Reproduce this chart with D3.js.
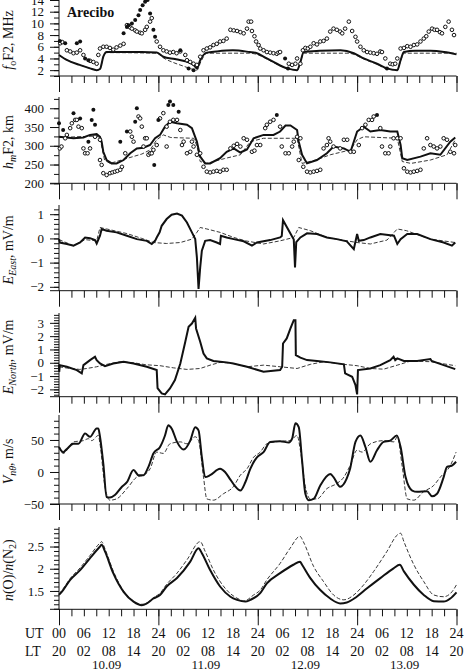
<!DOCTYPE html>
<html>
<head>
<meta charset="utf-8">
<script src="https://cdn.jsdelivr.net/npm/d3@7"></script>
<style>
  body { margin: 0; background: #fff; }
  svg { display: block; }
  text { font-family: "Liberation Serif", "Times New Roman", Times, serif; fill: #111; }
</style>
</head>
<body>
<div id="chart"></div>
<script>
// time axis (hours since 10.09 00 UT)
const utLabels = ['00', '06', '12', '18', '24', '06', '12', '18', '24', '06', '12', '18', '24', '06', '12', '18', '24'];
const ltLabels = ['20', '02', '08', '14', '20', '02', '08', '14', '20', '02', '08', '14', '20', '02', '08', '14', '20'];
const dayLabels = ['10.09', '11.09', '12.09', '13.09'];

// foF2, MHz
const foF2Model = [[0,4.6],[2,3.7],[5,2.9],[7.5,2.3],[9.1,2.0],[9.9,2.2],[10.7,4.3],[11.5,5.1],[14,5.1],[20,5.1],[23.6,5.0],[25.2,4.3],[28,3.9],[30,3.6],[32.5,2.9],[33.3,2.3],[34.1,3.7],[35.7,5.0],[38,5.2],[42,5.4],[46,5.1],[47.8,4.9],[49.4,4.3],[51.8,3.4],[55.1,2.3],[57.5,2.0],[58.3,3.4],[59.1,5.1],[63,5.3],[68,5.4],[71.2,4.9],[73.6,4.0],[76.8,3.1],[79.2,2.3],[81.7,2.0],[82.5,3.7],[83.3,5.1],[86,5.3],[89.7,5.3],[93,5.1],[96,4.7]];
const foF2Alt = [[0,4.6],[2,3.7],[5,2.9],[7.5,2.3],[9.1,2.0],[9.9,2.2],[10.7,4.3],[11.5,5.0],[23.6,4.9],[25.2,4.1],[28,3.2],[30,2.7],[32.5,2.1],[33.3,2.0],[34.3,3.5],[35.7,4.9],[46,4.9],[47.8,4.7],[49.4,4.2],[51.8,3.3],[55.1,2.3],[57.5,2.0],[58.3,3.4],[59.1,4.9],[70,4.9],[71.2,4.7],[73.6,3.9],[76.8,3.0],[79.2,2.2],[81.7,2.0],[82.5,3.6],[83.3,4.9],[96,4.9]];
const foF2Open = [[0.3,6.6],[0.8,6.8],[1.9,5.4],[2.7,5.2],[3.5,4.9],[4.3,5.0],[5.1,5.4],[5.9,4.6],[7.5,3.6],[8.3,3.4],[9.1,3.1],[9.5,4.6],[9.9,5.7],[10.7,6.0],[11.5,6.0],[12.3,5.8],[13.1,5.5],[13.9,5.9],[14.8,6.2],[15.6,6.5],[16.4,9.7],[17.2,9.3],[17.6,9.1],[18.4,8.8],[18.8,8.6],[19.6,8.4],[20,8.3],[20.8,8.9],[21.2,9.4],[22,10.3],[22.4,10.9],[23.6,6.9],[24.4,6.0],[25.2,5.4],[26,5.2],[26.8,5.0],[27.6,5.1],[28.4,4.9],[29.3,5.2],[30.5,4.6],[30.9,3.7],[31.7,3.4],[32.5,3.1],[33.3,2.9],[34.1,4.3],[34.9,5.4],[35.7,5.7],[36.5,5.9],[37.3,6.3],[38.1,6.5],[38.9,6.9],[39.7,7.0],[40.5,7.4],[41.4,8.9],[42.2,8.8],[43.0,8.7],[43.8,8.5],[44.6,8.3],[45.4,9.1],[45.8,10.3],[46.4,10.3],[46.6,8.7],[47.2,7.8],[47.6,6.9],[48.2,6.3],[48.6,5.7],[49.4,5.4],[50.2,5.1],[51,5.0],[51.8,4.9],[52.6,4.8],[53,5.0],[53.4,5.1],[55.5,3.1],[56.3,2.9],[57.1,3.1],[57.5,4.0],[58.3,3.1],[58.9,5.4],[59.5,5.8],[60.1,5.7],[60.7,6.0],[61.5,6.6],[62.3,6.4],[63.1,6.9],[63.9,7.0],[64.7,7.4],[65.5,8.6],[66.3,9.1],[67.1,8.9],[67.9,8.6],[68.4,8.3],[69.1,9.1],[70,10.3],[70.8,8.7],[71.6,7.7],[72,6.9],[72.8,6.0],[73.6,5.4],[74.4,5.1],[75.2,5.0],[76,4.9],[76.8,4.8],[77.6,5.2],[78,5.1],[78.8,4.0],[80,3.1],[80.6,3.0],[81.2,3.1],[81.7,4.0],[82.5,5.7],[83.3,5.8],[84.1,6.1],[84.9,6.0],[85.7,6.3],[86.5,6.4],[87.3,6.9],[88.1,7.4],[88.7,7.8],[89.3,8.6],[90.1,9.1],[90.7,8.9],[91.3,8.9],[92,8.5],[92.5,8.3],[93.3,9.4],[94.1,10.3],[94.9,8.9],[95.4,8.0]];
const foF2Filled = [[0.2,7.0],[1.5,6.6],[4.3,6.6],[5.1,6.9],[6.3,4.0],[7.1,3.7],[15.6,8.3],[16.4,9.4],[16.8,9.7],[17.6,10.0],[18.4,10.6],[19.2,11.4],[19.6,12.3],[20.2,13.1],[20.8,13.7],[21.4,14.0],[22.0,11.7],[22.8,8.9],[23.2,7.7],[29.3,5.4],[31.3,2.3],[32.5,2.0],[54.6,4.0],[55.3,2.3],[79.2,2.3]];

// hmF2, km
const hmF2Model = [[0,324],[3.5,320],[5.9,322],[7.5,329],[9.1,331],[9.9,324],[10.3,311],[10.7,284],[11.5,262],[12.7,253],[13.9,253],[15.6,262],[17.2,280],[18.8,293],[20.4,295],[22,302],[23.2,320],[24.4,329],[25.6,351],[26.8,364],[28.5,360],[30.9,356],[32.1,347],[33.3,311],[34.1,271],[35.3,253],[36.5,253],[38.9,267],[40.5,284],[42.2,293],[43.8,282],[45.4,290],[47,320],[49.4,329],[51.8,329],[53.4,338],[54.7,354],[55.9,354],[57.5,342],[57.9,311],[58.7,276],[59.9,253],[62.3,262],[64.7,280],[66.3,298],[68.8,293],[70.4,284],[72,338],[73.6,351],[75.2,338],[77.6,342],[80,338],[81.7,338],[82.5,302],[82.9,267],[84.1,262],[87.3,271],[89.7,280],[92.1,276],[94.5,311],[95.7,322]];
const hmF2Alt = [[0,322],[9.1,326],[9.9,320],[11,262],[12.3,253],[16,265],[20,278],[22,289],[23.6,316],[25.2,329],[27,322],[32.5,320],[33.3,300],[34.1,258],[35.7,253],[40,266],[43.8,276],[46.2,311],[49.4,320],[57.5,320],[58.7,253],[62,262],[65.5,276],[70.4,289],[72,316],[73.6,324],[81.7,320],[82.9,258],[85,253],[89.7,262],[93.7,276],[95.7,316]];
const hmF2Open = [[0.2,293],[0.6,298],[1.5,320],[1.9,329],[2.7,347],[3.1,360],[3.9,369],[4.3,369],[4.7,351],[5.5,347],[5.9,293],[6.3,280],[6.9,280],[7.5,293],[8.7,324],[9.9,316],[9.9,262],[10.3,249],[10.7,227],[11.5,222],[12.3,227],[12.9,229],[13.5,231],[14.1,233],[14.8,236],[15.2,244],[16,280],[17.2,338],[17.6,324],[18,311],[19.2,378],[19.6,373],[20,351],[20.4,298],[20.8,320],[21.2,320],[21.6,276],[22,280],[22.4,280],[22.8,289],[23.6,302],[24.4,373],[25.2,387],[26,298],[26,351],[26.8,364],[27.6,369],[28.5,369],[29.3,342],[29.7,302],[30.1,311],[30.9,280],[31.7,284],[32.1,311],[32.5,298],[33.3,276],[34.1,280],[34.9,244],[35.7,231],[36.5,229],[37.3,231],[38.1,233],[38.9,231],[39.7,236],[40.5,236],[41.4,293],[42.2,300],[43,305],[43.8,298],[44.6,320],[45.4,316],[46.6,284],[47.2,287],[47.8,302],[48.6,302],[49.8,347],[50.2,356],[51,364],[51.8,369],[53.4,351],[53.8,298],[54.7,280],[55.5,280],[56.3,298],[56.7,311],[57.5,324],[58.3,320],[57.9,262],[59,244],[59.9,231],[60.7,229],[61.5,231],[62.3,233],[63.1,236],[63.9,293],[64.7,302],[65.1,320],[65.5,311],[66.3,298],[67.9,293],[68.8,316],[69.6,316],[70.4,284],[71.2,284],[72.4,302],[73.2,347],[74,356],[74.8,369],[75.6,369],[76,378],[77.6,347],[78,298],[78.8,280],[79.6,280],[80,298],[80.8,320],[81.7,320],[82.5,320],[83.3,240],[84.1,231],[84.9,229],[85.7,231],[86.5,233],[87.3,236],[88.1,293],[88.9,320],[89.7,302],[90.5,298],[91.3,293],[92.1,298],[92.9,320],[93.7,316],[94.5,284],[95.4,280],[95.7,302]];
const hmF2Filled = [[0,360],[1,342],[3.5,387],[5.1,373],[7.1,311],[7.9,369],[8.3,396],[8.7,356],[14.8,311],[16.4,338],[18.4,364],[18.8,400],[23,249],[24,369],[26.4,409],[26.8,418],[27.6,409],[28.9,391],[52.6,382],[76.8,382]];

// E East, mV/m
const eEastModel = [[0,-0.03],[0.2,-0.17],[1.9,-0.23],[3.5,-0.3],[5.1,-0.17],[6.3,0.04],[7.5,0.01],[8.7,-0.07],[9.1,-0.21],[9.9,0.11],[10.3,0.39],[11.5,0.32],[13.9,0.25],[16.4,0.11],[18.8,-0.03],[21.2,-0.1],[22.4,-0.23],[23.2,-0.1],[23.6,0.04],[24.3,0.25],[24.8,0.52],[26,0.8],[27.2,0.98],[28.5,1.03],[29.7,0.94],[30.9,0.66],[32.1,0.25],[32.9,-0.03],[33.3,-0.78],[33.7,-2.09],[34.1,-1.2],[34.5,-0.51],[35.3,-0.1],[36.5,-0.07],[38.1,-0.17],[38.9,-0.23],[39.1,0.11],[40.5,0.04],[42.2,-0.03],[44.6,-0.12],[46.6,-0.3],[47.8,-0.17],[51,-0.07],[53.4,0.04],[53.8,0.1],[54.1,0.75],[56.7,-0.05],[57.0,-1.2],[57.3,-0.15],[58.3,0.04],[59.9,0.21],[62.3,0.18],[64.7,0.04],[67.1,-0.03],[69.5,-0.12],[71.2,-0.44],[72,0.18],[72.4,-0.1],[73.6,-0.07],[75.2,0.04],[77.6,0.18],[80.9,0.11],[81.7,-0.23],[82.5,-0.03],[84.1,0.18],[86.5,0.18],[89.7,-0.03],[92.9,-0.17],[94.9,-0.3],[95.7,-0.17]];
const eEastAlt = [[0,-0.05],[3.5,-0.3],[6.3,-0.05],[9.1,-0.1],[9.9,0.45],[11.5,0.39],[16.4,0.2],[20,0],[22.8,-0.17],[26,-0.21],[29.3,-0.17],[32.1,-0.03],[33.3,0.25],[34.1,0.45],[35.7,0.39],[38.9,0.25],[42.2,0.04],[45,-0.1],[49.4,-0.23],[53.4,-0.1],[56.7,0.04],[57.9,0.45],[60.7,0.32],[64.7,0.04],[69.5,-0.1],[72,-0.17],[75.2,-0.23],[79.2,-0.07],[81.7,0.39],[83.9,0.32],[89.7,-0.03],[95.7,-0.17]];

// E North, mV/m
const eNorthModel = [[0,-0.12],[0.05,-0.68],[0.2,-0.18],[1.9,-0.3],[4.3,-0.55],[5.5,-0.8],[5.9,-0.18],[7.5,0.2],[8.7,0.45],[9.1,0.2],[9.9,-0.05],[11.1,-0.25],[13.1,-0.05],[15.6,0.08],[18,-0.05],[21.2,-0.3],[23.6,-0.55],[23.8,-1.9],[24.8,-2.3],[25.6,-2.38],[26.8,-1.93],[28,-1.3],[29.3,-0.05],[30.5,1.58],[31.3,2.7],[32.1,2.95],[32.9,3.38],[33.1,2.58],[34.1,1.58],[34.9,0.7],[35.7,0.33],[37.3,0.13],[38.9,0.08],[40.5,0.03],[42.1,-0.05],[45.4,-0.3],[49.4,-0.68],[53.4,-0.55],[53.9,-0.3],[54.1,1.45],[55,1.83],[55.9,2.58],[56.7,3.2],[57.1,3.2],[57.2,0.58],[58.3,0.38],[59.9,0.2],[62.3,0.13],[65.5,0.03],[68.8,-0.12],[69.1,-0.8],[70.8,-1.05],[71.6,-1.68],[72,-2.38],[72.2,-0.55],[75.2,-0.43],[77.6,-0.18],[80,0.2],[80.8,0.45],[81.2,0.2],[81.7,0.33],[83.3,0.13],[86.5,0.13],[89.7,0.28],[90,0.13],[92.9,-0.18],[95.7,-0.48]];
const eNorthAlt = [[0,-0.3],[2,-0.4],[5,-0.5],[6.7,-0.43],[9.1,-0.3],[11.5,-0.12],[14.8,0.08],[18,0],[21,-0.15],[24.4,-0.22],[27.6,-0.38],[30.9,-0.5],[34.1,-0.43],[36.5,-0.18],[38.9,0.03],[42,-0.05],[45.4,-0.3],[49.4,-0.18],[53.4,-0.3],[57.5,-0.43],[60.7,-0.12],[64,0.08],[68.8,-0.12],[72,-0.22],[75.2,-0.43],[78.4,-0.48],[81.7,-0.18],[84.9,0.13],[89.7,0.08],[95.7,-0.22]];

// V n theta, m/s
const vnModel = [[0,39],[1,31],[1.9,36],[3.5,44],[4.7,44],[6.3,60],[7.5,55],[9.1,68],[9.5,68],[9.9,55],[10.7,13],[11.5,-39],[12.3,-40],[13.5,-36],[15.2,-23],[16.4,-16],[18,3],[19.2,-5],[20.4,-5],[21.6,8],[22.8,29],[24.4,39],[25.6,57],[26.4,73],[27.2,68],[28.5,47],[30.1,35],[31.7,49],[32.9,70],[33.7,65],[34.5,23],[35.3,-8],[36.5,-5],[38.9,5],[40.1,0],[41.4,-12],[42.5,-22],[43.8,-29],[45,-16],[46.2,5],[47.8,23],[49.4,31],[51,47],[53.4,48],[55.5,46],[56.3,52],[57.1,76],[57.9,70],[58.7,18],[59.5,-34],[60.3,-44],[61.5,-42],[63.1,-21],[65.5,-3],[66.3,-8],[67.9,-23],[69.5,-10],[70.3,5],[71.6,47],[72.8,57],[74,39],[75.2,16],[76.8,34],[78.4,47],[80,49],[81.6,57],[82.5,39],[83.7,-8],[85.3,-29],[86.5,-31],[88.9,-30],[90.1,-38],[91.3,-34],[92.9,-8],[93.7,8],[94.9,10],[95.9,16]];
const vnAlt = [[0,39],[1,29],[3.5,47],[5.9,49],[7.1,52],[7.9,49],[9.5,57],[9.9,44],[11.1,-23],[12.3,-44],[13.9,-42],[16.4,-26],[18.8,-8],[20.4,-5],[22,5],[23.6,31],[25.2,29],[26.8,44],[29.3,47],[30.9,44],[32.9,55],[33.7,49],[34.9,-8],[35.7,-42],[37.3,-44],[39.7,-34],[42.1,-23],[43.8,-5],[45.4,5],[47,23],[48.6,31],[50.2,44],[53.4,48],[55.8,49],[57.5,57],[58.3,34],[59.5,-23],[60.7,-42],[62.3,-42],[64.7,-26],[67.1,-18],[68.8,-8],[70.3,10],[72,34],[73.2,31],[75.2,44],[78.4,49],[80.9,47],[81.7,55],[82.9,8],[84.1,-42],[85.7,-44],[88,-31],[90.5,-21],[92.1,-8],[94.5,10],[95.9,31]];

// n(O)/n(N2)
const ratioModel = [[0,1.41],[1,1.52],[2.7,1.75],[5.1,1.97],[7.5,2.24],[9.9,2.5],[10.3,2.54],[11.1,2.39],[13.1,1.9],[15.6,1.48],[18,1.26],[20,1.18],[21.2,1.22],[22.8,1.33],[24.4,1.41],[26,1.6],[28.5,1.79],[31.7,2.16],[33.7,2.46],[34.5,2.35],[36.5,1.97],[38.9,1.6],[41.4,1.37],[43,1.3],[45,1.26],[46.2,1.3],[48.6,1.45],[50.2,1.67],[53.4,1.9],[56.6,2.09],[58.2,2.16],[58.7,2.09],[60.7,1.79],[63.1,1.52],[65.5,1.33],[67.9,1.22],[69.5,1.24],[71.9,1.37],[74.4,1.56],[77.6,1.79],[80.8,2.01],[82.3,2.09],[83.3,1.94],[85.7,1.64],[88.1,1.41],[90.5,1.27],[92.9,1.26],[94.5,1.33],[96,1.47]];
const ratioAlt = [[0,1.43],[1,1.55],[2.7,1.78],[5.1,2.02],[7.5,2.3],[9.9,2.58],[10.3,2.61],[11.1,2.45],[13.1,1.95],[15.6,1.5],[18,1.27],[20,1.2],[21.2,1.23],[22.8,1.35],[24.4,1.45],[26,1.65],[28.5,1.9],[30.9,2.2],[34.1,2.61],[35.3,2.39],[37.3,1.97],[40.5,1.52],[43.8,1.3],[44.6,1.27],[47,1.41],[48.6,1.52],[50.2,1.75],[53.4,2.12],[55.8,2.46],[58.2,2.73],[59,2.61],[61.5,2.05],[63.9,1.71],[66.3,1.41],[68.8,1.3],[71.2,1.41],[73.6,1.64],[76,1.94],[79.2,2.39],[81.7,2.76],[82.5,2.8],[83.3,2.61],[85.7,2.09],[88.1,1.71],[90.5,1.41],[92.9,1.37],[94.9,1.48],[96,1.64]];

const W = 466, H = 672;
const svg = d3.select('#chart').append('svg').attr('width', W).attr('height', H);

let x = d3.scaleLinear().domain([0, 96]).range([59, 456.5]);

let panels = [
  {top: 0, bottom: 76, domain: [1, 14], major: [2, 4, 6, 8, 10, 12, 14], minor: d3.range(1, 15, 1),
    solid: foF2Model, dashed: foF2Alt, open: foF2Open, filled: foF2Filled, curve: d3.curveMonotoneX, label: 'foF2'},
  {top: 97, bottom: 183.3, domain: [200, 430], major: [200, 250, 300, 350, 400], minor: d3.range(200, 431, 25),
    solid: hmF2Model, dashed: hmF2Alt, open: hmF2Open, filled: hmF2Filled, curve: d3.curveLinear, label: 'hmF2'},
  {top: 205, bottom: 290.7, domain: [-2.16, 1.38], major: [-2, -1, 0, 1], minor: d3.range(-2, 1.39, 0.2),
    solid: eEastModel, dashed: eEastAlt, curve: d3.curveLinear, label: 'eEast'},
  {top: 313, bottom: 396.7, domain: [-2.55, 3.74], major: [-2, -1, 0, 1, 2, 3], minor: d3.range(-2.4, 3.75, 0.2),
    solid: eNorthModel, dashed: eNorthAlt, curve: d3.curveLinear, label: 'eNorth'},
  {top: 415, bottom: 504, domain: [-50, 89], major: [-50, 0, 50], minor: d3.range(-50, 90, 10),
    solid: vnModel, dashed: vnAlt, curve: d3.curveMonotoneX, label: 'vn'},
  {top: 527, bottom: 609.3, domain: [1.087, 2.94], major: [1.5, 2, 2.5], minor: d3.range(1.1, 2.95, 0.1),
    solid: ratioModel, dashed: ratioAlt, curve: d3.curveMonotoneX, label: 'ratio'}
];

panels.forEach((p) => {
  let y = d3.scaleLinear().domain(p.domain).range([p.bottom, p.top]);
  let g = svg.append('g');

  // left axis: minor then major ticks
  g.append('g')
    .attr('transform', 'translate(59,0)')
    .call(d3.axisLeft(y).tickValues(p.minor).tickSize(5).tickFormat(''))
    .call((a) => a.select('.domain').remove());
  g.append('g')
    .attr('transform', 'translate(59,0)')
    .call(d3.axisLeft(y).tickValues(p.major).tickSize(9).tickPadding(6).tickFormat(d3.format('')))
    .call((a) => a.select('.domain').remove())
    .selectAll('text').attr('font-size', 13);
  g.append('line')
    .attr('x1', 59).attr('x2', 59).attr('y1', p.top).attr('y2', p.bottom)
    .attr('stroke', '#111');

  // bottom axis
  g.append('line')
    .attr('x1', 50).attr('x2', 456.5).attr('y1', p.bottom).attr('y2', p.bottom)
    .attr('stroke', '#111');
  g.append('g')
    .attr('transform', 'translate(0,' + p.bottom + ')')
    .call(d3.axisBottom(x).tickValues(d3.range(0, 97, 3)).tickSize(7).tickFormat(''))
    .call((a) => a.select('.domain').remove());
  g.append('g')
    .attr('transform', 'translate(0,' + p.bottom + ')')
    .call(d3.axisBottom(x).tickValues([0, 24, 48, 72, 96]).tickSize(16).tickFormat(''))
    .call((a) => a.select('.domain').remove());

  let line = d3.line().x((d) => x(d[0])).y((d) => y(d[1])).curve(p.curve);

  g.append('path').datum(p.dashed)
    .attr('d', line).attr('fill', 'none')
    .attr('stroke', '#222').attr('stroke-width', 0.9).attr('stroke-dasharray', '4,2');
  g.append('path').datum(p.solid)
    .attr('d', line).attr('fill', 'none')
    .attr('stroke', '#111').attr('stroke-width', 2);

  if (p.open) {
    g.selectAll('.open').data(p.open).enter().append('circle')
      .attr('cx', (d) => x(d[0])).attr('cy', (d) => y(d[1])).attr('r', 1.8)
      .attr('fill', '#fff').attr('stroke', '#111').attr('stroke-width', 1);
    g.selectAll('.filled').data(p.filled).enter().append('circle')
      .attr('cx', (d) => x(d[0])).attr('cy', (d) => y(d[1])).attr('r', 2)
      .attr('fill', '#111');
  }

  // rotated y title
  let t = g.append('text')
    .attr('transform', 'translate(13,' + ((p.top + p.bottom) / 2 + 2) + ') rotate(-90)')
    .attr('text-anchor', 'middle')
    .attr('font-size', 14);
  if (p.label === 'foF2') {
    t.append('tspan').attr('font-style', 'italic').text('f');
    t.append('tspan').attr('font-size', 10).attr('dy', 3).text('o');
    t.append('tspan').attr('dy', -3).text('F2, MHz');
  } else if (p.label === 'hmF2') {
    t.append('tspan').attr('font-style', 'italic').text('h');
    t.append('tspan').attr('font-size', 10).attr('dy', 3).attr('font-style', 'italic').text('m');
    t.append('tspan').attr('dy', -3).text('F2, km');
  } else if (p.label === 'eEast') {
    t.append('tspan').attr('font-style', 'italic').text('E');
    t.append('tspan').attr('font-size', 10).attr('dy', 3).attr('font-style', 'italic').text('East');
    t.append('tspan').attr('dy', -3).text(', mV/m');
  } else if (p.label === 'eNorth') {
    t.append('tspan').attr('font-style', 'italic').text('E');
    t.append('tspan').attr('font-size', 10).attr('dy', 3).attr('font-style', 'italic').text('North');
    t.append('tspan').attr('dy', -3).text(', mV/m');
  } else if (p.label === 'vn') {
    t.append('tspan').attr('font-style', 'italic').text('V');
    t.append('tspan').attr('font-size', 10).attr('dy', 3).attr('font-style', 'italic').text('nθ');
    t.append('tspan').attr('dy', -3).text(', m/s');
  } else {
    t.append('tspan').attr('font-style', 'italic').text('n');
    t.append('tspan').text('(O)/');
    t.append('tspan').attr('font-style', 'italic').text('n');
    t.append('tspan').text('(N');
    t.append('tspan').attr('font-size', 10).attr('dy', 3).text('2');
    t.append('tspan').attr('dy', -3).text(')');
  }
  g.selectAll('.tick line').attr('stroke', '#111');
});

svg.append('text')
  .attr('x', 67).attr('y', 17)
  .attr('font-size', 14).attr('font-weight', 'bold')
  .text('Arecibo');

// time labels under the last panel
let ticks6 = d3.range(0, 97, 6);
svg.append('text').attr('x', 25).attr('y', 638).attr('font-size', 14).text('UT');
svg.append('text').attr('x', 25).attr('y', 656).attr('font-size', 14).text('LT');
svg.selectAll('.ut').data(ticks6).enter().append('text')
  .attr('x', (d) => x(d)).attr('y', 638)
  .attr('text-anchor', 'middle').attr('font-size', 14)
  .text((d, i) => utLabels[i]);
svg.selectAll('.lt').data(ticks6).enter().append('text')
  .attr('x', (d) => x(d)).attr('y', 656)
  .attr('text-anchor', 'middle').attr('font-size', 14)
  .text((d, i) => ltLabels[i]);
svg.selectAll('.day').data(dayLabels).enter().append('text')
  .attr('x', (d, i) => x(i * 24 + 11.5)).attr('y', 669)
  .attr('text-anchor', 'middle').attr('font-size', 13)
  .text((d) => d);
</script>
</body>
</html>
